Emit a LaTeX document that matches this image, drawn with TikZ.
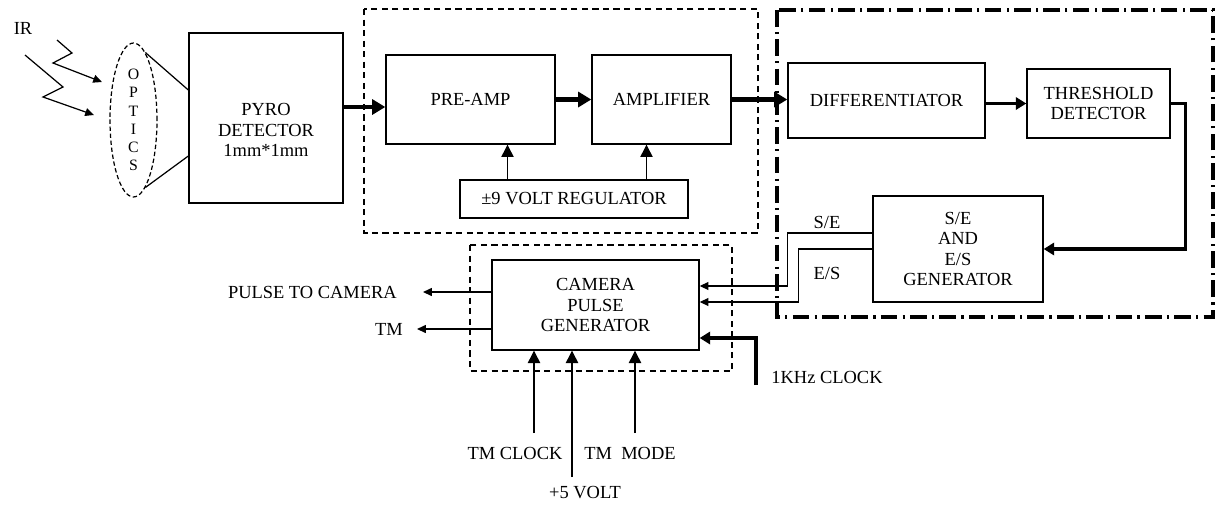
\documentclass[tikz,border=0pt]{standalone}
\usepackage{fontspec}
\setmainfont{Liberation Serif}
\usetikzlibrary{arrows.meta,shapes.geometric,calc}

\begin{document}
\begin{tikzpicture}[x=0.02cm, y=-0.02cm,
  every node/.style={font=\fontsize{10.5}{11.6}\selectfont},
  blk/.style={draw, line width=0.8pt, align=center, inner sep=0pt},
  fat/.style={line width=2.6pt, -{Triangle[width=8.5pt,length=7.5pt]}},
  med/.style={line width=2pt, -{Triangle[width=7pt,length=6pt]}},
  thinarr/.style={line width=0.7pt, -{Triangle[width=4.5pt,length=5pt]}},
  feed/.style={line width=0.7pt, -{Triangle[width=7pt,length=7pt]}},
  grp/.style={line width=0.7pt, dash pattern=on 3.5pt off 2.5pt},
  zone/.style={line width=1.8pt, dash pattern=on 9.5pt off 3pt on 1.2pt off 3pt}]
  \useasboundingbox (0,0) rectangle (1221,508);

  % Group outlines
  \draw[grp] (364,9) rectangle (758,233);
  \draw[grp] (470,245) rectangle (732,371);
  \draw[zone] (777,10) rectangle (1213,317);

  % Front end: optics and detector
  \node (ir) at (23,28) {IR};
  \node[draw, ellipse, line width=0.7pt, dash pattern=on 2.5pt off 1.5pt,
        minimum width=0.94cm, minimum height=3.08cm, inner sep=0pt, align=center,
        font=\fontsize{9}{10.4}\selectfont] (optics) at (133.5,120) {O\\P\\T\\I\\C\\S};
  \node[blk, minimum width=3.08cm, minimum height=3.4cm] (pyro) at (266,118) {};
  \node[align=center] (pyrotxt) at ($(pyro.center)+(0,12)$) {PYRO\\DETECTOR\\1mm*1mm};
  \draw[line width=0.7pt] (optics.80) -- ($(pyro.west)+(0,-28)$);
  \draw[line width=0.7pt] (optics.-80) -- ($(pyro.west)+(0,38)$);
  % IR rays
  \draw[thinarr] (57,40) -- (72,53) -- (53,63) -- (102,82);
  \draw[thinarr] (25,55) -- (63,87) -- (43,97) -- (94,115);

  % Amplifier stage
  \node[blk, minimum width=3.38cm, minimum height=1.78cm] (preamp) at (470.5,99.5) {PRE-AMP};
  \node[blk, minimum width=2.78cm, minimum height=1.78cm] (amp) at (661.5,99.5) {AMPLIFIER};
  \node[blk, minimum width=4.56cm, minimum height=0.76cm] (reg) at (574,199) {±9 VOLT REGULATOR};

  % Detection stage
  \node[blk, minimum width=3.94cm, minimum height=1.5cm] (diff) at (886.5,100.5) {DIFFERENTIATOR};
  \node[blk, minimum width=2.86cm, minimum height=1.38cm] (thr) at (1098.5,103.5) {THRESHOLD\\DETECTOR};
  \node[blk, minimum width=3.4cm, minimum height=2.12cm] (seg) at (958,249) {S/E\\AND\\E/S\\GENERATOR};

  % Camera pulse generator
  \node[blk, minimum width=4.14cm, minimum height=1.8cm] (cam) at (595.5,305) {CAMERA\\PULSE\\GENERATOR};

  % Labels
  \node (se) at (827,222) {S/E};
  \node (es) at (827,273) {E/S};
  \node[anchor=east] (ptc) at (403,292) {PULSE TO CAMERA};
  \node[anchor=east] (tm) at (409,329) {TM};
  \node (tmclk) at (515,453) {TM CLOCK};
  \node (tmmode) at (630,453) {TM~~MODE};
  \node (fivev) at (585,493) {+5 VOLT};
  \node (clk) at (827,377) {1KHz CLOCK};

  % Signal chain
  \coordinate (p1) at ($(pyro.east)+(0,-11)$);
  \draw[fat] (p1) -- (p1 -| preamp.west);
  \draw[fat] (preamp) -- (amp);
  \draw[fat] (amp.east) -- (amp.east -| diff.west);
  \draw[med] (diff.east |- thr.west) -- (thr.west);
  \draw[med] (thr.east) -- ++(15,0) |- (seg.east);

  % Regulator feeds
  \foreach \n/\dx in {preamp/37, amp/-15} {
    \coordinate (f) at ($(\n.south)+(\dx,0)$);
    \draw[feed] (f |- reg.north) -- (f);
  }

  % S/E and E/S lines
  \draw[thinarr] ($(seg.west)+(0,-16)$) -- ++(-85,0) |- ($(cam.east)+(0,-19)$);
  \draw[thinarr] (seg.west) -- ++(-74,0) |- ($(cam.east)+(0,-3)$);

  % Clock input
  \draw[med] ($(clk.west)+(-9,8)$) |- ($(cam.east)+(0,33)$);

  % Outputs
  \draw[thinarr] ($(cam.west)+(0,-13)$) -- ($(ptc.east)+(20,0)$);
  \draw[thinarr] ($(cam.west)+(0,24)$) -- ($(tm.east)+(8,0)$);

  % Bottom inputs
  \foreach \x/\y in {534/433, 572/477, 635/433} {
    \coordinate (b) at (\x,\y);
    \draw[feed] (b) -- (b |- cam.south);
  }
\end{tikzpicture}
\end{document}
